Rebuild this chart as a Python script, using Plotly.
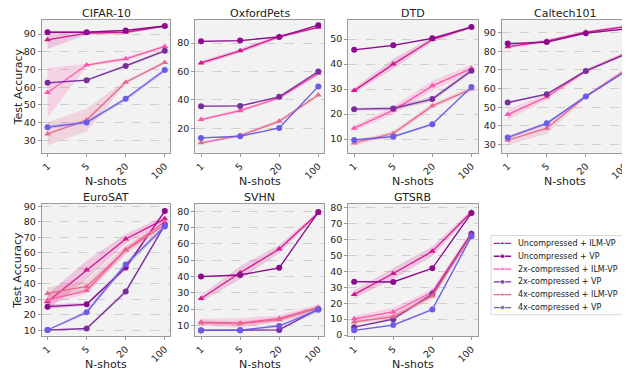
import plotly.graph_objects as go

shots = ["1", "5", "20", "100"]
series_names = ["Uncompressed + ILM-VP", "Uncompressed + VP", "2x-compressed + ILM-VP",
                "2x-compressed + VP", "4x-compressed + ILM-VP", "4x-compressed + VP"]
series_colors = ["#d6168f", "#8e0a8e", "#ff55aa", "#7a2e9e", "#e66a8e", "#6b5be6"]
series_fills = ["rgba(214,22,143,0.2)", "rgba(142,10,142,0.2)", "rgba(255,85,170,0.2)",
                "rgba(122,46,158,0.2)", "rgba(230,106,142,0.22)", "rgba(107,91,230,0.2)"]
series_symbols = ["triangle-up", "circle", "triangle-up", "circle", "triangle-up", "circle"]

# mean values, series order as series_names
cifar10 = [[86.7, 90.5, 91.0, 94.5], [91.0, 91.0, 92.0, 94.5], [57.0, 72.5, 76.0, 83.0],
           [62.5, 64.0, 72.0, 80.5], [33.7, 41.5, 62.8, 74.0], [37.5, 40.2, 53.5, 69.7]]
cifar10_std = [[5, 1, 0.8, 0.5], [0.5, 0.5, 0.5, 0.5], [14, 0.8, 1, 1],
               [0.5, 0.5, 0.8, 0.8], [6.5, 6.5, 1, 0.8], [1, 1, 1.2, 1.2]]
oxfordpets = [[66.0, 74.5, 84.5, 91.0], [81.2, 81.7, 84.3, 92.5], [26.2, 32.5, 41.5, 58.5],
              [35.6, 35.8, 42.2, 60.0], [9.9, 15.0, 25.0, 43.5], [13.3, 14.5, 20.3, 49.5]]
oxfordpets_std = [[1.5, 1.5, 1.5, 0.8], [0.4, 0.4, 0.4, 0.4], [1, 1.2, 1.2, 1],
                  [0.5, 0.5, 0.8, 0.8], [1, 1, 1.5, 1], [0.4, 0.4, 0.5, 0.5]]
dtd = [[29.4, 40.0, 49.8, 54.8], [45.7, 47.5, 50.3, 54.8], [14.4, 21.5, 31.3, 38.3],
       [22.0, 22.3, 26.0, 37.3], [8.5, 12.3, 23.3, 30.0], [9.7, 11.0, 16.0, 30.8]]
dtd_std = [[1, 2, 1, 0.5], [0.3, 0.3, 0.3, 0.3], [1, 1.5, 2, 1.5],
           [0.5, 0.8, 1, 0.8], [1, 1, 1, 1], [0.5, 0.5, 0.5, 0.5]]
caltech101 = [[82.5, 85.5, 90.3, 93.3], [84.2, 85.0, 89.8, 92.0], [46.0, 55.5, 69.5, 78.8],
              [52.5, 57.0, 69.5, 78.3], [32.2, 38.7, 55.8, 69.8], [33.7, 41.3, 55.8, 69.0]]
caltech101_std = [[1, 1, 0.7, 0.7], [0.5, 0.5, 0.5, 0.5], [3, 1.5, 1.2, 1],
                  [0.5, 0.5, 0.5, 0.5], [2.5, 3, 1, 1], [0.8, 0.8, 0.5, 0.5]]
eurosat = [[28.5, 49.0, 69.0, 82.0], [25.3, 26.8, 50.5, 87.0], [29.5, 35.7, 62.0, 80.0],
           [10.2, 11.2, 35.0, 78.0], [33.8, 38.3, 61.8, 78.0], [10.2, 21.7, 52.5, 77.0]]
eurosat_std = [[5, 6, 3, 2], [1.5, 1, 1.5, 0.5], [3, 2, 2, 2],
               [0.5, 0.5, 1.5, 1], [4, 4, 3, 2], [0.5, 1.5, 2, 1.5]]
svhn = [[26.5, 42.3, 56.8, 79.0], [39.9, 40.9, 45.3, 79.5], [12.0, 11.4, 14.2, 21.0],
        [6.9, 7.0, 7.2, 20.0], [11.5, 11.0, 13.5, 20.5], [7.0, 7.0, 9.6, 19.5]]
svhn_std = [[2, 4, 2.5, 1], [0.5, 0.5, 0.5, 0.5], [2, 3, 2, 2],
            [0.3, 0.3, 0.5, 1], [1.5, 1.5, 1.5, 1.5], [0.3, 0.3, 1, 1.5]]
gtsrb = [[25.5, 38.6, 52.5, 77.0], [33.5, 33.3, 41.9, 76.5], [10.2, 14.5, 27.0, 64.0],
         [5.0, 10.0, 25.8, 63.5], [8.3, 11.5, 24.5, 62.5], [3.0, 6.3, 16.0, 61.8]]
gtsrb_std = [[2.5, 3.5, 3, 1.5], [0.5, 0.5, 0.5, 0.5], [2, 2.5, 2, 1.5],
             [0.5, 0.5, 1, 1], [1.5, 1.5, 2, 1.5], [0.3, 0.5, 0.8, 1]]

panels = [
    ("CIFAR-10", cifar10, cifar10_std, [23, 98], [30, 40, 50, 60, 70, 80, 90]),
    ("OxfordPets", oxfordpets, oxfordpets_std, [2.8, 96.3], [20, 40, 60, 80]),
    ("DTD", dtd, dtd_std, [4.5, 57.7], [10, 20, 30, 40, 50]),
    ("Caltech101", caltech101, caltech101_std, [25.4, 97], [30, 40, 50, 60, 70, 80, 90]),
    ("EuroSAT", eurosat, eurosat_std, [6.4, 91.7], [10, 20, 30, 40, 50, 60, 70, 80, 90]),
    ("SVHN", svhn, svhn_std, [3.5, 84.6], [10, 20, 30, 40, 50, 60, 70, 80]),
    ("GTSRB", gtsrb, gtsrb_std, [-0.5, 82.3], [0, 10, 20, 30, 40, 50, 60, 70, 80]),
]

W, H = 630, 375
OFF = 8  # the page places the figure 8px in from the window's top-left corner
col_px = [(40.8, 170.0), (194.8, 324.0), (348.4, 478.0), (502.4, 630.0)]
row_px = [(17, 153), (205, 340)]
STEP = 39.2  # pixels per category step


def px(xw):
    return (xw - OFF) / W


def py(yw):
    return 1 - (yw - OFF) / H


fig = go.Figure()
FONT = "DejaVu Sans"
TXT = "#222222"
SPINE = "#9a9a9a"

for i, (title, vals, stds, yr, yt) in enumerate(panels):
    r, c = divmod(i, 4)
    n = i + 1
    xa = "x" if n == 1 else f"x{n}"
    ya = "y" if n == 1 else f"y{n}"
    x0, x1 = col_px[c]
    t, b = row_px[r]
    xr = [-0.15, -0.15 + (x1 - x0) / STEP]
    fig.update_layout(**{
        ("xaxis" if n == 1 else f"xaxis{n}"): dict(
            domain=[px(x0), px(x1)], anchor=ya, type="category",
            categoryorder="array", categoryarray=shots, range=xr,
            tickangle=-45, showgrid=False, showline=True, linecolor=SPINE,
            linewidth=1, mirror=True, ticks="outside", ticklen=3, tickcolor=SPINE,
            tickfont=dict(size=9.5, color=TXT, family=FONT),
        ),
        ("yaxis" if n == 1 else f"yaxis{n}"): dict(
            domain=[py(b), py(t)], anchor=xa, range=yr, tickvals=yt,
            showgrid=True, gridcolor="#cfcfcf", griddash="dash", gridwidth=0.7,
            showline=True, linecolor=SPINE, linewidth=1, mirror=True,
            ticks="outside", ticklen=3, tickcolor=SPINE, zeroline=False,
            tickfont=dict(size=9.5, color=TXT, family=FONT),
        ),
    })
    fig.add_annotation(text=title, xref="paper", yref="paper",
                       x=px((x0 + x1) / 2), y=py(t - 6.5), xanchor="center", yanchor="middle",
                       showarrow=False, font=dict(size=11, color=TXT, family=FONT))
    fig.add_annotation(text="N-shots", xref="paper", yref="paper",
                       x=px((x0 + x1) / 2), y=py(b + 29), xanchor="center", yanchor="middle",
                       showarrow=False, font=dict(size=11, color=TXT, family=FONT))
    if c == 0:
        fig.add_annotation(text="Test Accuracy", xref="paper", yref="paper", textangle=-90,
                           x=px(17), y=py((t + b) / 2), xanchor="center", yanchor="middle",
                           showarrow=False, font=dict(size=11, color=TXT, family=FONT))
    for k in range(6):
        m = vals[k]
        s = stds[k]
        upper = [a + d for a, d in zip(m, s)]
        lower = [a - d for a, d in zip(m, s)]
        fig.add_trace(go.Scatter(x=shots + shots[::-1], y=upper + lower[::-1], fill="toself",
                                 fillcolor=series_fills[k], line=dict(width=0), mode="lines",
                                 hoverinfo="skip", showlegend=False, xaxis=xa, yaxis=ya))
        fig.add_trace(go.Scatter(x=shots, y=m, mode="lines+markers", name=series_names[k],
                                 line=dict(color=series_colors[k], width=1.3),
                                 marker=dict(symbol=series_symbols[k], size=6, color=series_colors[k]),
                                 showlegend=False, xaxis=xa, yaxis=ya))

# Legend panel (compact, matplotlib-style) drawn on an invisible pixel-scaled axis
LEG = (491, 628, 237, 319)
fig.update_layout(
    xaxis8=dict(domain=[px(LEG[0]), px(LEG[1])], range=[LEG[0], LEG[1]], visible=False,
                anchor="y8", fixedrange=True, showgrid=False),
    yaxis8=dict(domain=[py(LEG[3]), py(LEG[2])], range=[LEG[3], LEG[2]], visible=False,
                anchor="x8", fixedrange=True, showgrid=False),
)
fig.add_shape(type="rect", xref="x8", yref="y8", x0=LEG[0] + 0.5, x1=LEG[1] - 1,
              y0=LEG[2] + 0.5, y1=LEG[3] - 0.5, line=dict(color="#d6d6d6", width=1),
              fillcolor="rgba(255,255,255,0.85)", layer="below")
for k in range(6):
    yc = 245.5 + 13.1 * k
    fig.add_trace(go.Scatter(x=[494.3, 503, 511.7], y=[yc, yc, yc], mode="lines+markers",
                             line=dict(color=series_colors[k], width=1.3),
                             marker=dict(symbol=series_symbols[k], size=[0, 5, 0], color=series_colors[k]),
                             hoverinfo="skip", showlegend=False, xaxis="x8", yaxis="y8"))
    fig.add_annotation(text=series_names[k], xref="x8", yref="y8", x=517.5, y=yc,
                       xanchor="left", yanchor="middle", showarrow=False, borderpad=0,
                       font=dict(size=8.0, color=TXT, family=FONT))

fig.update_layout(
    width=W, height=H, margin=dict(l=0, r=0, t=0, b=0),
    paper_bgcolor="white", plot_bgcolor="#f2f2f2",
    font=dict(family=FONT, size=9.5, color=TXT),
    showlegend=False,
)

fig.write_html("out.html")
